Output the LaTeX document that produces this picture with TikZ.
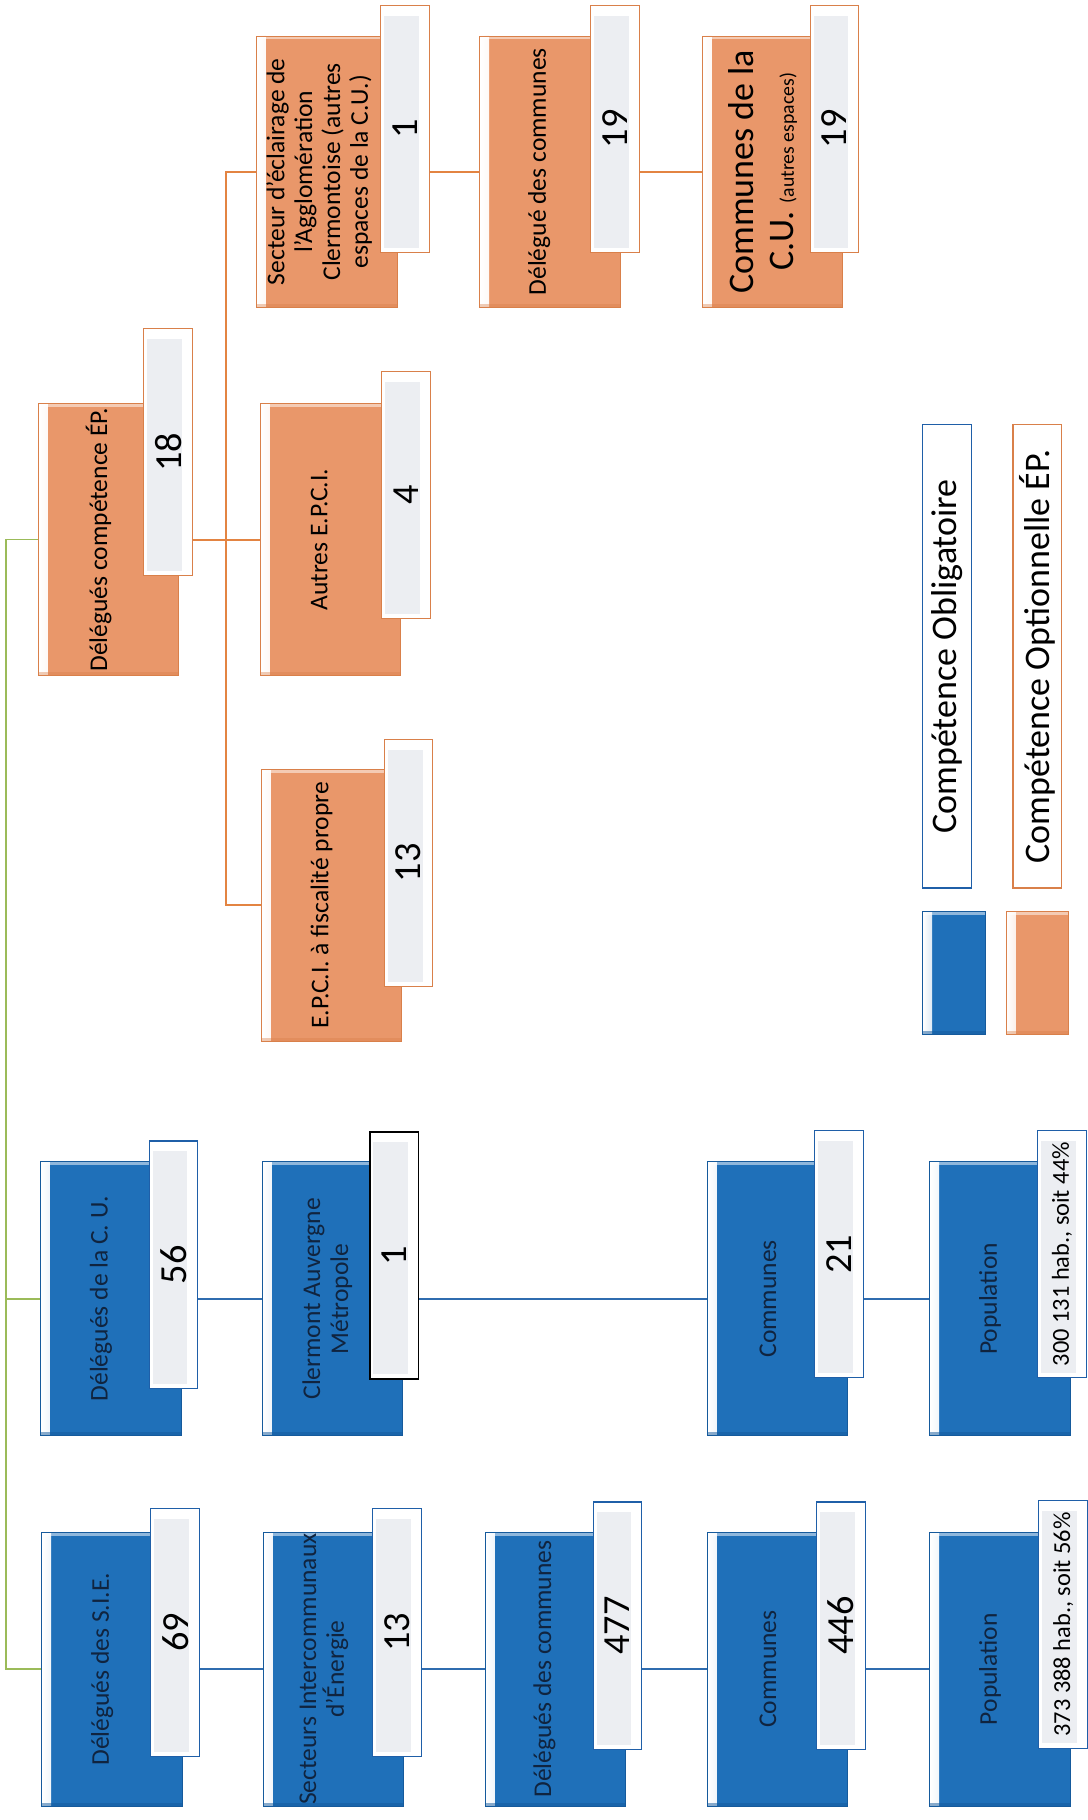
\documentclass[tikz,border=0pt]{standalone}
\usepackage{fontspec}
\setmainfont{Carlito}
\usetikzlibrary{calc}
\definecolor{bmain}{HTML}{1F70B9}
\definecolor{bdark}{HTML}{155A9C}
\definecolor{omain}{HTML}{E9976A}
\definecolor{odark}{HTML}{D9804A}
\definecolor{blinec}{HTML}{2F6CAF}
\definecolor{olinec}{HTML}{E38442}
\definecolor{glinec}{HTML}{9BBB59}
\definecolor{labgray}{HTML}{ECEEF2}
\definecolor{bedge}{HTML}{1F5FA8}
\definecolor{navytext}{HTML}{10243F}
\newcommand\popsize{\fontsize{21}{24}\selectfont}
\newcommand\mkunit[9]{%
  \node[#1box] (#2) at ({#3+60.5},{#4+118}) {};
  \node[#1lab] (#2N) at ({#5+21},{#6+106.5}) {};
  \node[#1text] (#2T) at ({#3+#9},{#4+118}) {#7};
  \node[numtext] (#2V) at (#2N.center) {#8};
}
\tikzset{
  boxbase/.style={rectangle, inner sep=0pt, minimum width=121pt, minimum height=236pt, line width=0.8pt},
  bbox/.style={boxbase, draw=bdark, fill=bmain,
    path picture={
      \shade[left color=white, right color=bmain] (path picture bounding box.north west) rectangle ([xshift=8pt]path picture bounding box.south west);
      \fill[white, opacity=0.5] (path picture bounding box.north west) rectangle ([yshift=-3pt]path picture bounding box.north east);
      \fill[bdark, opacity=0.5] ([yshift=3pt]path picture bounding box.south west) rectangle (path picture bounding box.south east);
    }},
  obox/.style={boxbase, minimum height=234pt, draw=odark, fill=omain,
    path picture={
      \shade[left color=white, right color=omain] (path picture bounding box.north west) rectangle ([xshift=8pt]path picture bounding box.south west);
      \fill[white, opacity=0.5] (path picture bounding box.north west) rectangle ([yshift=-3pt]path picture bounding box.north east);
      \fill[odark, opacity=0.4] ([yshift=3pt]path picture bounding box.south west) rectangle (path picture bounding box.south east);
    }},
  labbase/.style={rectangle, inner sep=0pt, minimum width=42pt, minimum height=213pt, fill=white, line width=0.9pt,
    path picture={
      \fill[labgray] ([xshift=3pt,yshift=-9pt]path picture bounding box.north west) rectangle ([xshift=-9pt,yshift=4pt]path picture bounding box.south east);
    }},
  blab/.style={labbase, draw=bedge},
  olab/.style={labbase, draw=odark},
  klab/.style={labbase, draw=black, line width=1.6pt},
  btext/.style={rotate=90, align=center, text=navytext, inner sep=0pt, font=\fontsize{22}{24}\selectfont},
  otext/.style={rotate=90, align=center, text=black, inner sep=0pt, font=\fontsize{22}{24}\selectfont},
  bigotext/.style={rotate=90, align=center, text=black, inner sep=0pt, font=\fontsize{31}{35}\selectfont},
  numtext/.style={rotate=90, align=center, text=black, inner sep=0pt, font=\fontsize{33}{36}\selectfont},
  legtext/.style={rotate=90, rectangle, inner sep=0pt, minimum width=399pt, minimum height=42pt, line width=1pt, fill=white, text=black, font=\fontsize{31}{34}\selectfont},
  bconn/.style={draw=blinec, line width=1.8pt},
  oconn/.style={draw=olinec, line width=1.5pt},
  gconn/.style={draw=glinec, line width=1.2pt},
}
\begin{document}
\begin{tikzpicture}[x=1pt, y=-1pt]
\useasboundingbox (0,0) rectangle (937,1568);
\fill[white] (0,0) rectangle (937,1568);

% ---- blue row 1 ----
\mkunit{b}{sie}{36}{1320}{130}{1300}{Délégués des S.I.E.}{69}{52}
\mkunit{b}{sec}{227}{1320}{321}{1300}{Secteurs Intercommunaux\\d’Énergie}{13}{52}
\mkunit{b}{dlc}{418}{1320}{511}{1294}{Délégués des communes}{477}{51}
\mkunit{b}{com}{609.5}{1320}{703.5}{1294}{Communes}{446}{52}
\mkunit{b}{pop}{801}{1320}{895}{1293}{Population}{\popsize 373 388 hab., soit 56\%}{52}

% ---- blue row 2 ----
\mkunit{b}{cu}{35}{1001}{128.5}{983}{Délégués de la C. U.}{56}{52}
\mkunit{b}{cam}{226}{1001}{318.5}{975}{Clermont Auvergne\\Métropole}{1}{56}
\mkunit{b}{comb}{609.5}{1001}{702}{974}{Communes}{21}{52}
\mkunit{b}{popb}{801}{1001}{894}{974}{Population}{\popsize 300 131 hab., soit 44\%}{52}
\node[klab] (camK) at (camN.center) {};
\node[numtext] (camKV) at (camK.center) {1};

% ---- orange ----
\mkunit{o}{dep}{33}{347}{124}{283}{Délégués compétence ÉP.}{18}{52}
\mkunit{o}{aut}{224}{347}{329}{320}{Autres E.P.C.I.}{4}{51}
\mkunit{o}{fis}{225}{662}{331}{637}{E.P.C.I. à fiscalité propre}{13}{52}
\mkunit{o}{sct}{221}{30}{328}{4.5}{Secteur d’éclairage de\\l’Agglomération\\Clermontoise (autres\\espaces de la C.U.)}{1}{54}
\mkunit{o}{dgc}{413.5}{30}{509}{4.5}{Délégué des communes}{19}{51}
\node[obox] (ccu) at ({605+60.5},{30+118}) {};
\node[olab] (ccuN) at ({698+21},{4.5+106.5}) {};
\node[bigotext] (ccuT) at ({605+52},{30+118}) {Communes de la\\C.U. {\fontsize{17}{20}\selectfont (autres espaces)}};
\node[numtext] (ccuV) at (ccuN.center) {19};

% ---- legend ----
\node[bbox, minimum width=53.6pt, minimum height=106pt] (legBs) at (821.8,838) {};
\node[obox, minimum width=53.6pt, minimum height=106pt] (legOs) at (893.5,838) {};
\node[legtext, draw=bedge] (legB) at (816,565.5) {Compétence Obligatoire};
\node[legtext, draw=odark] (legO) at (893.7,565.5) {Compétence Optionnelle ÉP.};

% ---- connectors ----
\coordinate (gx) at (5,0);
\coordinate (ox) at (195,0);
\draw[gconn] (dep.west) -- (gx |- dep.west) -- (gx |- sie.west) -- (sie.west);
\draw[gconn] (gx |- cu.west) -- (cu.west);

\draw[bconn] (sieN.east |- sec.west) -- (sec.west);
\draw[bconn] (secN.east |- dlc.west) -- (dlc.west);
\draw[bconn] (dlcN.east |- com.west) -- (com.west);
\draw[bconn] (comN.east |- pop.west) -- (pop.west);
\draw[bconn] (cuN.east |- cam.west) -- (cam.west);
\draw[bconn] (camK.east |- comb.west) -- (comb.west);
\draw[bconn] (combN.east |- popb.west) -- (popb.west);

\draw[oconn] (depN.east |- aut.west) -- (aut.west);
\draw[oconn] (sct.west) -- (ox |- sct.west) -- (ox |- fis.west) -- (fis.west);
\draw[oconn] (sctN.east |- dgc.west) -- (dgc.west);
\draw[oconn] (dgcN.east |- ccu.west) -- (ccu.west);
\end{tikzpicture}
\end{document}
